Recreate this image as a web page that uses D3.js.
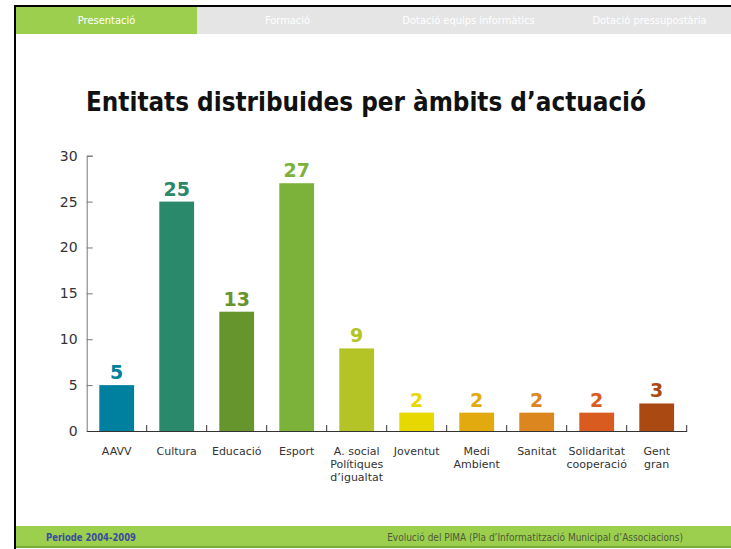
<!DOCTYPE html>
<html>
<head>
<meta charset="utf-8">
<script src="https://cdn.jsdelivr.net/npm/d3@7/dist/d3.min.js"></script>
<style>
  body { margin: 0; background: #fff; }
  svg { display: block; }
</style>
</head>
<body>
<div id="chart"></div>
<script>
// chart data
var categories = ['AAVV', 'Cultura', 'Educació', 'Esport', 'A. social', 'Joventut', 'Medi Ambient', 'Sanitat', 'Solidaritat', 'Gent gran'];
var labelLines = [['AAVV'], ['Cultura'], ['Educació'], ['Esport'], ['A. social', 'Polítiques', 'd’igualtat'],
                  ['Joventut'], ['Medi', 'Ambient'], ['Sanitat'], ['Solidaritat', 'cooperació'], ['Gent', 'gran']];
var values = [5, 25, 13, 27, 9, 2, 2, 2, 2, 3];
var yTicks = [0, 5, 10, 15, 20, 25, 30];
var tabs = ['Presentació', 'Formació', 'Dotació equips informàtics', 'Dotació pressupostària'];

var palette = ['#00809f', '#2a896a', '#67952d', '#7db23a', '#b4c426', '#e6d800', '#e3aa10', '#db861e', '#d95b1f', '#ab4913'];

function init() {
  'use strict';
  var W = 731, H = 549;
  var svg = d3.select('#chart').append('svg')
      .attr('width', W).attr('height', H);

  // frame: black left/top border
  svg.append('rect').attr('x', 14).attr('y', 5).attr('width', W - 14).attr('height', 2).attr('fill', '#000');
  svg.append('rect').attr('x', 14).attr('y', 5).attr('width', 2).attr('height', H - 5).attr('fill', '#000');

  // tab bar
  var tabW = 181;
  var tab = svg.selectAll('g.tab').data(tabs).enter().append('g').attr('class', 'tab');
  tab.append('rect')
    .attr('x', function (d, i) { return 16 + i * tabW; })
    .attr('y', 7).attr('width', tabW).attr('height', 27)
    .attr('fill', function (d, i) { return i === 0 ? '#9ccf4d' : '#e5e5e5'; });
  tab.append('text')
    .attr('x', function (d, i) { return 16 + i * tabW + tabW / 2; })
    .attr('y', 24)
    .attr('text-anchor', 'middle')
    .attr('font-family', 'DejaVu Sans Condensed, DejaVu Sans')
    .attr('font-size', 11)
    .attr('fill', '#fff')
    .text(function (d) { return d; });

  // footer
  svg.append('rect').attr('x', 16).attr('y', 526).attr('width', W - 16).attr('height', 22).attr('fill', '#9ccf4d');
  svg.append('rect').attr('x', 16).attr('y', 546).attr('width', W - 16).attr('height', 2).attr('fill', '#7aab35');
  svg.append('text').attr('x', 46).attr('y', 541)
    .attr('font-family', 'DejaVu Sans Condensed, DejaVu Sans').attr('font-size', 10).attr('font-weight', 'bold')
    .attr('fill', '#3b4b9c').attr('textLength', 90).attr('lengthAdjust', 'spacingAndGlyphs')
    .text('Periode 2004-2009');
  svg.append('text').attr('x', 683).attr('y', 541).attr('text-anchor', 'end')
    .attr('font-family', 'DejaVu Sans Condensed, DejaVu Sans').attr('font-size', 10)
    .attr('fill', '#4d5a3a')
    .text('Evolució del PIMA (Pla d’Informatització Municipal d’Associacions)');

  // title
  svg.append('text').attr('x', 86).attr('y', 111)
    .attr('font-family', 'DejaVu Sans Condensed, DejaVu Sans').attr('font-size', 27).attr('font-weight', 'bold')
    .attr('fill', '#111').attr('textLength', 560).attr('lengthAdjust', 'spacingAndGlyphs')
    .text('Entitats distribuides per àmbits d’actuació');

  // scales
  var x = d3.scaleBand().domain(categories).range([86.7, 686.7]).paddingInner(0.42).paddingOuter(0.21);
  var y = d3.scaleLinear().domain([0, 30]).range([431, 155.7]);
  var g = svg.append('g').attr('font-family', 'DejaVu Sans, Verdana, sans-serif');

  // y axis
  var yAxis = g.append('g').attr('transform', 'translate(86.7,0)')
    .call(d3.axisLeft(y).tickValues(yTicks).tickSize(-6).tickPadding(9));
  yAxis.select('.domain').attr('stroke', '#777');
  yAxis.selectAll('.tick line').attr('stroke', '#777');
  yAxis.selectAll('.tick text').attr('font-size', 14).attr('fill', '#333').attr('font-family', 'DejaVu Sans');

  // bars
  g.selectAll('rect.bar').data(values).enter().append('rect').attr('class', 'bar')
    .attr('x', function (d, i) { return x(categories[i]); })
    .attr('y', function (d) { return y(d); })
    .attr('width', x.bandwidth())
    .attr('height', function (d) { return y(0) - y(d); })
    .attr('fill', function (d, i) { return palette[i]; });

  // value labels
  g.selectAll('text.val').data(values).enter().append('text').attr('class', 'val')
    .attr('x', function (d, i) { return x(categories[i]) + x.bandwidth() / 2; })
    .attr('y', function (d) { return y(d) - 6; })
    .attr('text-anchor', 'middle')
    .attr('font-size', 19).attr('font-weight', 'bold')
    .attr('fill', function (d, i) { return palette[i]; })
    .text(function (d) { return d; });

  // x axis with boundary ticks
  var xAxis = g.append('g').attr('transform', 'translate(0,431)')
    .call(d3.axisBottom(x).tickSize(0).tickFormat(''));
  xAxis.select('.domain').attr('stroke', '#333').attr('stroke-width', 1.2);
  var half = x.step() * x.paddingInner() / 2;
  xAxis.selectAll('line.sep').data(categories).enter().append('line').attr('class', 'sep')
    .attr('x1', function (d) { return x(d) + x.bandwidth() + half; })
    .attr('x2', function (d) { return x(d) + x.bandwidth() + half; })
    .attr('y1', 0).attr('y2', -6)
    .attr('stroke', '#333');

  // category labels
  var lbl = g.selectAll('text.cat').data(labelLines).enter().append('text').attr('class', 'cat')
    .attr('text-anchor', 'middle')
    .attr('font-size', 11)
    .attr('fill', '#333')
    .attr('transform', function (d, i) { return 'translate(' + (x(categories[i]) + x.bandwidth() / 2) + ',455)'; });
  lbl.selectAll('tspan').data(function (d) { return d; }).enter().append('tspan')
    .attr('x', 0)
    .attr('dy', function (d, i) { return i === 0 ? 0 : 12.8; })
    .text(function (d) { return d; });
}

window.onload = init;
</script>
</body>
</html>
